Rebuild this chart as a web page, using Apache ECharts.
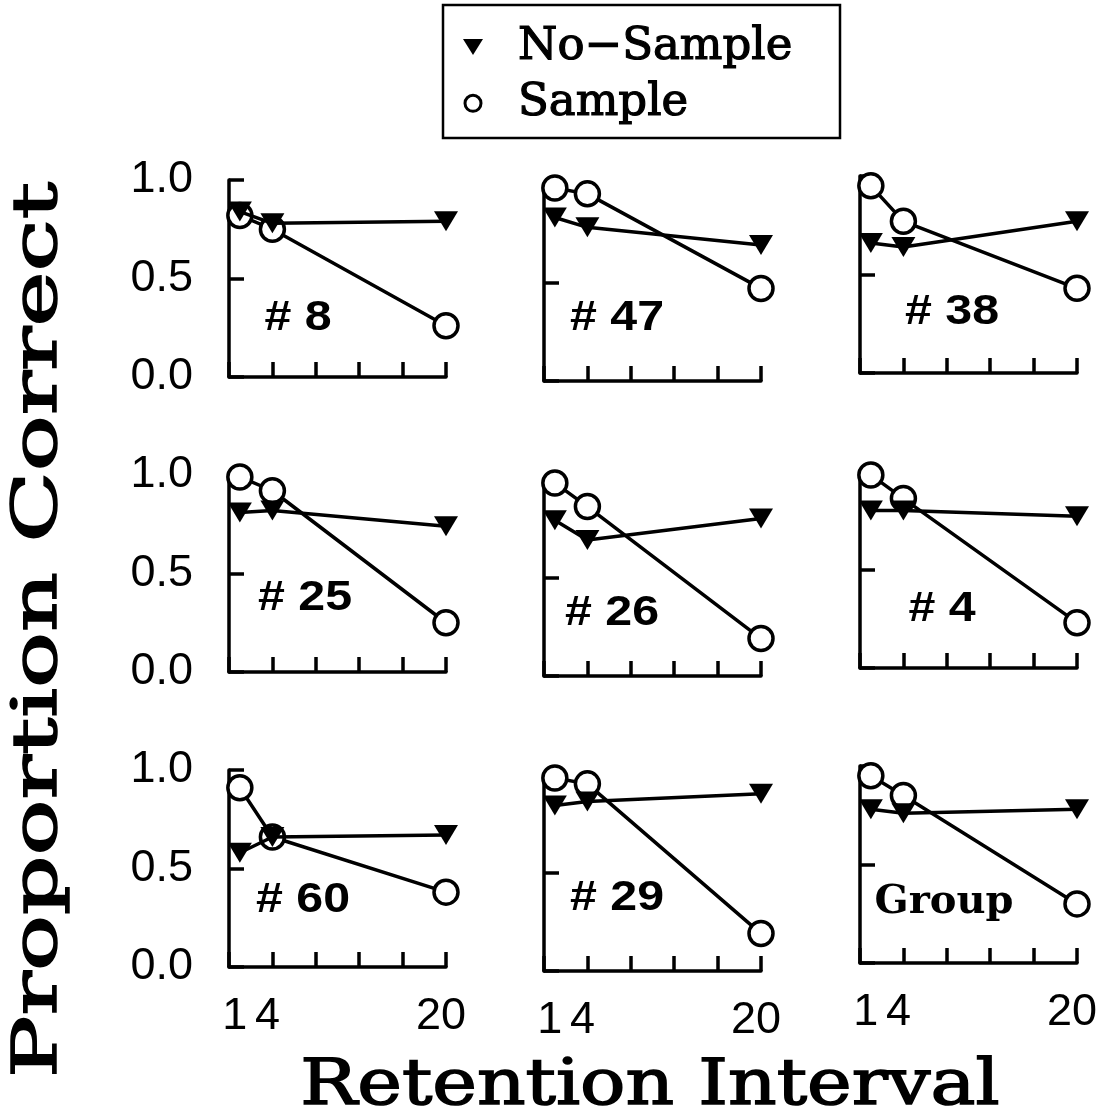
<!DOCTYPE html>
<html><head><meta charset="utf-8">
<script src="https://cdn.jsdelivr.net/npm/echarts@6/dist/echarts.min.js"></script>
<style>html,body{margin:0;padding:0;background:#fff}#c{width:1115px;height:1120px}</style>
</head><body><div id="c"></div>
<script>
// ---- data ----
const xValues = [1, 4, 20];
const xTicks = [0, 4, 8, 12, 16, 20];
const xTickLabels = [1, 4, 20];
const seriesNames = ['No\u2212Sample', 'Sample'];
const panelNames = ['# 8', '# 47', '# 38', '# 25', '# 26', '# 4', '# 60', '# 29', 'Group'];

const noSample_8  = [0.84, 0.78, 0.79];
const sample_8    = [0.82, 0.75, 0.26];
const noSample_47 = [0.83, 0.78, 0.69];
const sample_47   = [0.98, 0.95, 0.47];
const noSample_38 = [0.66, 0.64, 0.77];
const sample_38   = [0.95, 0.77, 0.43];
const noSample_25 = [0.81, 0.82, 0.74];
const sample_25   = [0.99, 0.92, 0.25];
const noSample_26 = [0.79, 0.69, 0.80];
const sample_26   = [0.98, 0.86, 0.19];
const noSample_4  = [0.80, 0.80, 0.77];
const sample_4    = [0.98, 0.86, 0.23];
const noSample_60 = [0.58, 0.66, 0.67];
const sample_60   = [0.91, 0.66, 0.38];
const noSample_29 = [0.84, 0.86, 0.90];
const sample_29   = [0.98, 0.95, 0.19];
const noSample_G  = [0.78, 0.76, 0.78];
const sample_G    = [0.95, 0.85, 0.30];

const panelNoSample = [noSample_8, noSample_47, noSample_38, noSample_25, noSample_26, noSample_4, noSample_60, noSample_29, noSample_G];
const panelSample   = [sample_8, sample_47, sample_38, sample_25, sample_26, sample_4, sample_60, sample_29, sample_G];

// ---- layout ----
const colLeft = [229, 544, 860];
const colTopOffset = [0, 4, -4];
const rowTop = [180, 475, 770];
const W = 217, H = 197;
const labelCenters = [[298, 318], [617, 318], [952, 312], [305, 598], [612, 613], [942, 609], [303, 900], [617, 898], [944, 903]];

const grids = [], xAxes = [], yAxes = [], series = [], graphics = [];
const axisLine = { show: true, lineStyle: { color: '#000', width: 3.5 } };
const pair = arr => arr.map((v, i) => [xValues[i], v]);

for (let p = 0; p < 9; p++) {
  const r = Math.floor(p / 3), c = p % 3;
  grids.push({ left: colLeft[c], top: rowTop[r] + colTopOffset[c], width: W, height: H,
               containLabel: false, outerBoundsMode: 'none' });
  xAxes.push({
    gridIndex: p, type: 'value', min: 0, max: 20, interval: 4,
    axisLine: axisLine,
    axisTick: { show: true, inside: true, length: 15, customValues: xTicks, lineStyle: { color: '#000', width: 3.5 } },
    splitLine: { show: false },
    axisLabel: { show: r === 2, customValues: xTickLabels, fontSize: 45, color: '#000',
                 fontFamily: 'Liberation Sans', margin: 27, padding: [0, 10, 0, 0] }
  });
  yAxes.push({
    gridIndex: p, type: 'value', min: 0, max: 1, interval: 0.5,
    axisLine: axisLine,
    axisTick: { show: true, inside: true, length: 15, lineStyle: { color: '#000', width: 3.5 } },
    splitLine: { show: false },
    axisLabel: { show: c === 0, formatter: v => v.toFixed(1), fontSize: 45, color: '#000',
                 fontFamily: 'Liberation Sans', margin: 36 }
  });
  series.push({
    name: seriesNames[1], type: 'line', xAxisIndex: p, yAxisIndex: p,
    data: pair(panelSample[p]),
    symbol: 'circle', symbolSize: 24,
    lineStyle: { color: '#000', width: 3.5 },
    itemStyle: { color: '#fff', borderColor: '#000', borderWidth: 3.5 },
    emphasis: { disabled: true }, z: 2
  });
  series.push({
    name: seriesNames[0], type: 'line', xAxisIndex: p, yAxisIndex: p,
    data: pair(panelNoSample[p]),
    symbol: 'triangle', symbolRotate: 180, symbolSize: [24, 20],
    lineStyle: { color: '#000', width: 3.5 },
    itemStyle: { color: '#000', borderColor: '#000', borderWidth: 0 },
    emphasis: { disabled: true }, z: 3
  });
  const isGroup = panelNames[p] === 'Group';
  graphics.push({
    type: 'text', x: labelCenters[p][0], y: labelCenters[p][1], z: 10,
    scaleX: isGroup ? 1 : 1.15,
    style: { text: panelNames[p], textAlign: 'center', textVerticalAlign: 'middle',
             fontSize: isGroup ? 40 : 42, fontWeight: 'bold',
             fontFamily: isGroup ? 'DejaVu Serif' : 'Liberation Sans', fill: '#000' }
  });
}

// legend box
graphics.push({ type: 'rect', shape: { x: 443, y: 5, width: 397, height: 133 },
  style: { fill: 'none', stroke: '#000', lineWidth: 2.5 } });
// axis titles
graphics.push({ type: 'text', x: 650, y: 1087, scaleX: 1.18,
  style: { text: 'Retention Interval', textAlign: 'center', textVerticalAlign: 'middle',
           fontSize: 64, fontWeight: 'normal', fontFamily: 'DejaVu Serif', fill: '#000',
           stroke: '#000', lineWidth: 1.5 } });
graphics.push({ type: 'text', x: 40, y: 630, rotation: Math.PI / 2, scaleX: 1.5,
  style: { text: 'Proportion Correct', textAlign: 'center', textVerticalAlign: 'middle',
           fontSize: 62, fontWeight: 'normal', fontFamily: 'DejaVu Serif', fill: '#000',
           stroke: '#000', lineWidth: 1.5 } });

const chart = echarts.init(document.getElementById('c'), null, { renderer: 'canvas' });
chart.setOption({
  animation: false,
  backgroundColor: '#fff',
  grid: grids, xAxis: xAxes, yAxis: yAxes, series: series,
  legend: {
    orient: 'vertical', left: 463, top: 24, padding: 0, itemGap: 10,
    itemWidth: 20, itemHeight: 16, selectedMode: false,
    data: [
      { name: seriesNames[0], icon: 'path://M0,0L20,0L10,16Z', itemStyle: { color: '#000', borderWidth: 0 } },
      { name: seriesNames[1], icon: 'circle', itemStyle: { color: '#fff', borderColor: '#000', borderWidth: 3 } }
    ],
    textStyle: { fontSize: 45, fontWeight: 'normal', fontFamily: 'DejaVu Serif', color: '#000',
                 textBorderColor: '#000', textBorderWidth: 1.2,
                 lineHeight: 46, padding: [0, 0, 0, 30] }
  },
  graphic: graphics
});
</script></body></html>
